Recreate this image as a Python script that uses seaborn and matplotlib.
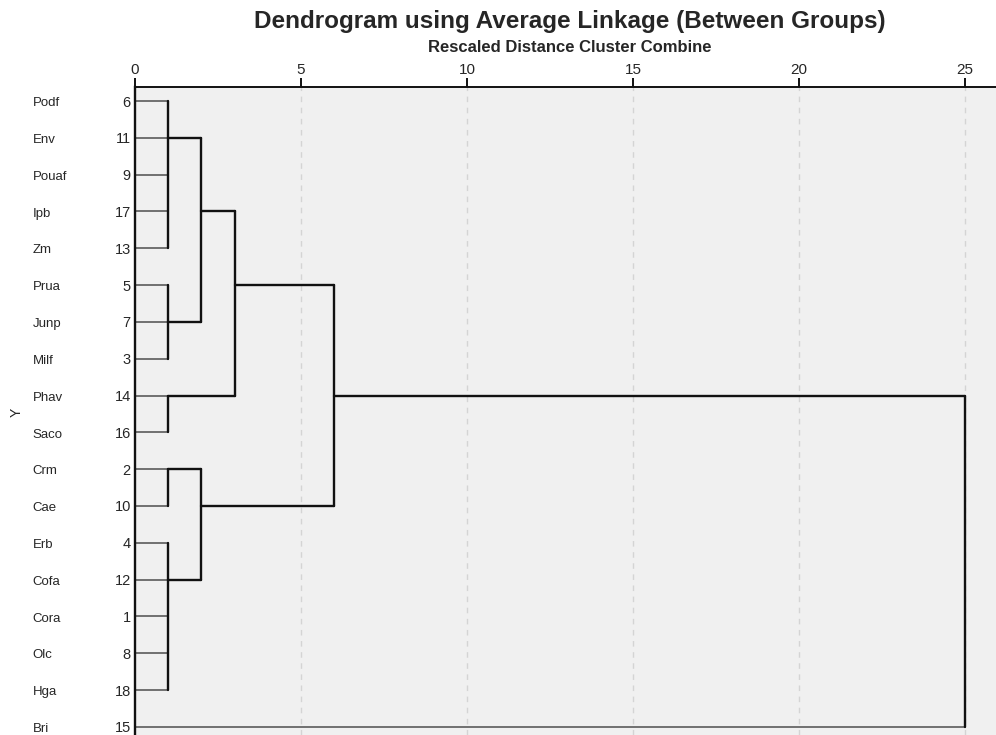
import pandas as pd
import matplotlib
matplotlib.use("Agg")
import matplotlib.pyplot as plt
import matplotlib.transforms as mtransforms
import seaborn as sns

# leaves in dendrogram order (top to bottom)
labels = ['Podf', 'Env', 'Pouaf', 'Ipb', 'Zm', 'Prua', 'Junp', 'Milf', 'Phav',
          'Saco', 'Crm', 'Cae', 'Erb', 'Cofa', 'Cora', 'Olc', 'Hga', 'Bri']
case_nums = [6, 11, 9, 17, 13, 5, 7, 3, 14, 16, 2, 10, 4, 12, 1, 8, 18, 15]

# internal nodes: children (leaf index or node id), rescaled distance, row of outgoing link
node_ids = [18, 19, 20, 21, 22, 23, 24, 25, 26, 27]
node_children = [[0, 1, 2, 3, 4], [5, 6, 7], [18, 19], [8, 9], [20, 21],
                 [10, 11], [12, 13, 14, 15, 16], [23, 24], [22, 25], [26, 17]]
node_heights = [1, 1, 2, 1, 3, 1, 1, 2, 6, 25]
node_link_rows = [1, 6, 3, 8, 5, 10, 13, 11, 8, 8]

ticks = [0, 5, 10, 15, 20, 25]


def build_segments():
    height = {i: 0 for i in range(len(labels))}
    row = {i: i for i in range(len(labels))}
    for nid, h, r in zip(node_ids, node_heights, node_link_rows):
        height[nid] = h
        row[nid] = r
    rows = []
    seg = 0
    for nid, kids in zip(node_ids, node_children):
        h = height[nid]
        kid_rows = [row[k] for k in kids]
        # vertical joining bar
        rows.append(dict(seg=seg, x=h, y=min(kid_rows), kind='node'))
        rows.append(dict(seg=seg, x=h, y=max(kid_rows), kind='node'))
        seg += 1
        for k in kids:
            kind = 'leaf' if k < len(labels) else 'node'
            rows.append(dict(seg=seg, x=height[k], y=row[k], kind=kind))
            rows.append(dict(seg=seg, x=h, y=row[k], kind=kind))
            seg += 1
    return pd.DataFrame(rows)


sns.set_theme(style="white")
plt.rcParams['font.family'] = ['Liberation Sans', 'DejaVu Sans']

fig = plt.figure(figsize=(9.96, 7.35), dpi=100)
ax = fig.add_axes([0.1355, 0.0, 0.8645, 0.8816])
ax.set_facecolor('#f0f0f0')

seg_df = build_segments()
leaf_df = seg_df[seg_df['kind'] == 'leaf']
node_df = seg_df[seg_df['kind'] == 'node']

for x in ticks[1:]:
    ax.axvline(x, color='#d4d4d4', linestyle=(0, (4, 4)), linewidth=1.0, zorder=0)

sns.lineplot(data=leaf_df, x='x', y='y', units='seg', estimator=None, sort=False,
             color='#5a5a5a', linewidth=1.2, ax=ax)
sns.lineplot(data=node_df, x='x', y='y', units='seg', estimator=None, sort=False,
             color='#111111', linewidth=1.7, ax=ax)

ax.set_xlim(0, 25.93)
ax.set_ylim(17.22, -0.38)

ax.xaxis.tick_top()
ax.set_xticks(ticks)
ax.set_xticklabels([str(t) for t in ticks], fontsize=11)
ax.tick_params(axis='x', direction='out', length=6.5, width=1.4, color='#111111', pad=0.5)

ax.set_yticks(range(len(labels)))
ax.set_yticklabels([str(c) for c in case_nums], fontsize=10.5)
ax.tick_params(axis='y', length=0, pad=3)

name_trans = mtransforms.blended_transform_factory(fig.transFigure, ax.transData)
for i, name in enumerate(labels):
    ax.text(0.033, i + 0.06, name, transform=name_trans,
            ha='left', va='center', fontsize=9.5)

ax.set_xlabel('')
ax.set_ylabel('Y', fontsize=10)
ax.yaxis.set_label_coords(-0.129, 0.498)

for side in ['right', 'bottom']:
    ax.spines[side].set_visible(False)
ax.spines['top'].set_color('#111111')
ax.spines['top'].set_linewidth(1.4)
ax.spines['left'].set_color('#111111')
ax.spines['left'].set_linewidth(1.7)

fig.text(0.572, 0.971, 'Dendrogram using Average Linkage (Between Groups)',
         ha='center', va='center', fontsize=17.5, fontweight='bold')
fig.text(0.572, 0.936, 'Rescaled Distance Cluster Combine',
         ha='center', va='center', fontsize=12, fontweight='bold')

fig.savefig('out.png', dpi=100)
